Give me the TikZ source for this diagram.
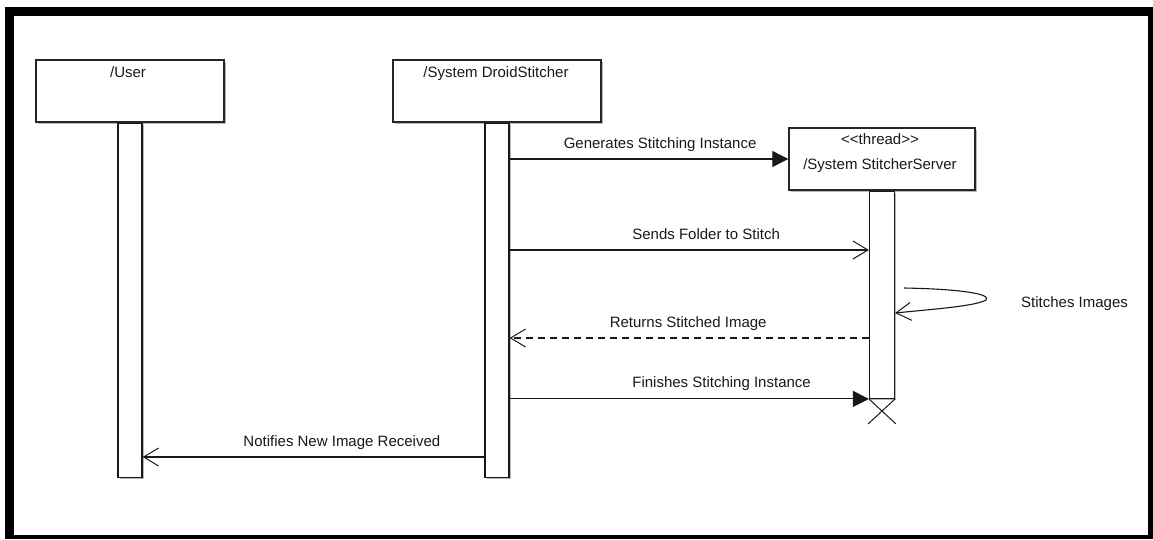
\documentclass[tikz,border=0pt]{standalone}
\usepackage{fontspec}
\setmainfont{Liberation Sans}
\usetikzlibrary{arrows.meta,shadows}
\begin{document}
\begin{tikzpicture}[x=1pt,y=-1pt,
  txt/.style={font=\fontsize{15}{18}\selectfont, text=black!90, inner sep=0pt},
  shade/.style={drop shadow={shadow xshift=1.6pt, shadow yshift=-1.6pt, fill=black!28, opacity=1}},
  actor/.style={draw=black!85, line width=1.4pt, fill=white, inner sep=0pt, shade},
  bar/.style={draw=black!90, line width=1.2pt, fill=white, inner sep=0pt, minimum width=24pt, shade},
  msg/.style={draw=black!90, line width=1.1pt},
  sync/.style={msg, -{Triangle[length=16pt,width=16pt]}},
  open/.style={msg, -{Straight Barb[length=15pt,width=18pt,line width=1pt]}},
  reply/.style={open, dash pattern=on 7pt off 5pt},
  lbl/.style={txt, anchor=base, yshift=11pt}
]
\useasboundingbox (0,0) rectangle (1153,539);
% frame
\fill[black] (5,7) rectangle (1153,539);
\fill[white] (14,16) rectangle (1148,535);

% lifeline heads
\node[actor, minimum width=188pt, minimum height=62pt] (user) at (130,91) {};
\node[actor, minimum width=208pt, minimum height=62pt] (droid) at (497,91) {};
\node[actor, minimum width=186pt, minimum height=62pt] (server) at (882,159) {};
\node[txt, anchor=base] (userlbl) at (128,77) {/User};
\node[txt, anchor=base] (droidlbl) at (496,77) {/System DroidStitcher};
\node[txt, anchor=base] (stereo) at (880,144) {<{}<thread>{}>};
\node[txt, anchor=base] (serverlbl) at (880,169) {/System StitcherServer};

% activation bars
\node[bar, minimum height=354pt, anchor=north] (userbar) at (user.south) {};
\node[bar, minimum height=354pt, anchor=north] (droidbar) at (droid.south) {};
\node[bar, minimum width=25pt, minimum height=207pt, anchor=north] (serverbar) at (server.south) {};

% messages
\draw[sync] (droidbar.east |- server.west) -- (server.west)
  node[lbl, pos=0.54] {Generates Stitching Instance};
\draw[open] (droidbar.east |- 0,250) -- (serverbar.west |- 0,250)
  node[lbl, pos=0.547] {Sends Folder to Stitch};
\coordinate (selfstart) at ([xshift=9pt]serverbar.east |- 0,288);
\coordinate (selfend) at (serverbar.east |- 0,313);
\draw[open] (selfstart) .. controls (960,289) and (992,294) .. (986,300)
  .. controls (976,306) and (935,309) .. (selfend);
\node[txt, anchor=base west] (selflbl) at (1021,307) {Stitches Images};
\draw[reply] (serverbar.west |- 0,338) -- (droidbar.east |- 0,338)
  node[lbl, pos=0.503] {Returns Stitched Image};
\draw[sync] (droidbar.east |- serverbar.south) -- (serverbar.south west)
  node[lbl, pos=0.59] {Finishes Stitching Instance};
\draw[open] (droidbar.west |- 0,457) -- (userbar.east |- 0,457)
  node[lbl, pos=0.417] {Notifies New Image Received};

% end of the server thread
\draw[msg, line width=1pt] (serverbar.south west) -- ++(27,25);
\draw[msg, line width=1pt] (serverbar.south east) -- ++(-27,25);
\end{tikzpicture}
\end{document}
